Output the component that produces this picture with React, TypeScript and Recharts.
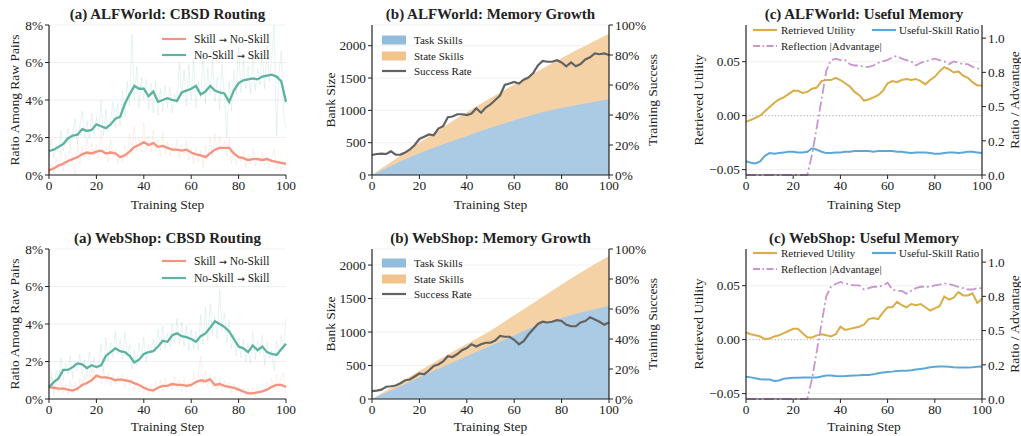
import { Area, CartesianGrid, ComposedChart, Line, LineChart, ReferenceLine, XAxis, YAxis } from 'recharts';

const SERIF = "'Liberation Serif', 'Times New Roman', serif";
const INK = '#222';
const TEAL = '#5cb3a0';
const SALMON = '#f4937f';
const TASK_FILL = '#abcae3';
const STATE_FILL = '#f5d1a6';
const TASK_PATCH = '#92bcdc';
const STATE_PATCH = '#f3c38d';
const SUCCESS = '#626262';
const GOLD = '#d9ad47';
const SKY = '#5ba8d8';
const ORCHID = '#c896cc';

// x positions
const everyStep = Array.from({ length: 101 }, (_, i) => i);
const evenSteps = everyStep.filter((s) => s % 2 === 0);
const tenSteps = [0, 10, 20, 30, 40, 50, 60, 70, 80, 90, 100];
const stepTicks = [0, 20, 40, 60, 80, 100];

// (a) CBSD routing, percent of raw pairs
const alfNoToSkill = [1.28, 1.35, 1.5, 1.65, 1.95, 2.1, 2.15, 2.45, 2.35, 2.4, 2.7, 2.6, 2.5, 2.7, 3.0, 3.1, 3.8, 4.3, 4.75, 4.6, 4.6, 4.2, 4.45, 3.9, 4.0, 4.1, 4.0, 3.95, 4.4, 4.5, 4.6, 4.75, 4.3, 4.45, 4.75, 4.5, 4.4, 4.35, 3.9, 4.5, 4.9, 5.05, 5.1, 5.15, 5.1, 5.25, 5.3, 5.35, 5.25, 5.0, 3.9];
const alfSkillToNo = [0.25, 0.35, 0.5, 0.6, 0.75, 0.85, 0.95, 1.1, 1.2, 1.15, 1.25, 1.3, 1.15, 1.2, 1.15, 0.95, 1.05, 1.25, 1.5, 1.6, 1.75, 1.6, 1.7, 1.5, 1.55, 1.45, 1.35, 1.35, 1.3, 1.35, 1.2, 1.1, 1.05, 0.95, 1.15, 1.35, 1.45, 1.45, 1.45, 1.15, 0.95, 0.9, 0.8, 0.85, 0.85, 0.8, 0.85, 0.75, 0.7, 0.65, 0.6];
const alfNoToSkillRaw = [
  1.0, 1.9, 0.9, 1.6, 1.2, 2.4, 1.3, 1.8, 2.5, 1.6, 2.2,
  3.0, 1.7, 2.6, 3.4, 2.0, 2.9, 1.9, 3.3, 2.2, 3.1,
  2.4, 4.0, 2.1, 3.5, 2.3, 2.8, 3.9, 2.5, 3.8, 2.6,
  4.5, 3.1, 5.0, 3.7, 7.5, 4.0, 5.8, 3.6, 5.2, 4.0,
  5.1, 3.5, 4.9, 3.3, 5.0, 3.2, 4.6, 3.4, 4.8, 3.6,
  4.7, 3.3, 4.3, 3.8, 6.0, 4.2, 5.6, 3.7, 5.9, 4.0,
  6.2, 3.6, 5.0, 4.1, 6.5, 3.8, 5.7, 4.3, 6.1, 3.9,
  5.2, 3.5, 5.9, 4.2, 2.0, 5.0, 3.4, 5.6, 4.3, 6.8,
  4.4, 6.1, 4.6, 5.8, 4.3, 6.4, 4.5, 5.7, 4.8, 6.6,
  4.6, 6.9, 5.0, 6.2, 8.0, 2.1, 5.4, 6.6, 3.2, 2.5,
];
const alfSkillToNoRaw = [
  0.0, 0.6, 0.1, 0.9, 0.3, 1.4, 0.2, 1.1, 0.5, 1.6, 0.7,
  0.0, 1.8, 0.6, 1.5, 0.9, 2.0, 0.8, 1.7, 1.0, 1.6,
  0.9, 2.4, 1.2, 1.5, 0.7, 1.9, 1.0, 1.4, 0.6, 1.1,
  0.7, 1.6, 0.9, 2.2, 1.1, 2.6, 1.3, 2.0, 1.2, 2.8,
  1.4, 2.1, 1.2, 2.4, 1.3, 1.9, 1.0, 2.3, 1.1, 1.8,
  1.0, 1.7, 1.2, 1.9, 0.9, 1.6, 1.1, 1.8, 0.8, 1.4,
  0.6, 1.5, 0.7, 1.3, 0.4, 1.6, 0.8, 2.0, 1.0, 2.2,
  1.2, 2.1, 1.3, 1.8, 1.0, 2.0, 0.6, 1.3, 0.5, 1.0,
  0.7, 1.3, 0.4, 1.1, 0.6, 1.4, 0.5, 1.0, 0.7, 1.2,
  0.5, 1.0, 0.4, 0.9, 1.4, 0.3, 0.8, 0.2, 0.7, 0.3,
];
const webNoToSkill = [0.62, 0.9, 1.1, 1.55, 1.55, 1.7, 1.9, 1.85, 1.65, 1.8, 1.7, 1.8, 2.3, 2.5, 2.7, 2.55, 2.5, 2.3, 1.95, 2.1, 2.4, 2.5, 2.55, 2.8, 3.1, 3.05, 3.4, 3.5, 3.35, 3.3, 3.2, 3.05, 3.35, 3.5, 3.8, 4.15, 4.0, 3.85, 3.6, 3.2, 2.8, 2.7, 2.5, 2.85, 2.6, 2.8, 2.5, 2.4, 2.35, 2.65, 2.95];
const webSkillToNo = [0.62, 0.6, 0.55, 0.55, 0.5, 0.45, 0.55, 0.75, 0.85, 1.0, 1.25, 1.15, 1.15, 1.1, 1.0, 1.05, 1.0, 0.95, 0.85, 0.75, 0.6, 0.5, 0.45, 0.6, 0.7, 0.7, 0.8, 0.75, 0.75, 0.7, 0.75, 0.9, 1.0, 0.95, 1.05, 0.75, 0.8, 0.7, 0.65, 0.6, 0.5, 0.4, 0.3, 0.3, 0.35, 0.4, 0.5, 0.65, 0.75, 0.75, 0.65];
const webNoToSkillRaw = [
  0.6, 1.2, 0.5, 1.5, 0.9, 2.2, 1.0, 1.9, 1.3, 2.3, 1.1,
  2.0, 1.5, 2.4, 1.3, 2.1, 1.2, 2.5, 1.4, 2.2, 1.6,
  1.9, 2.9, 1.5, 3.3, 2.0, 3.0, 2.2, 3.6, 2.4, 3.2,
  2.1, 3.6, 2.3, 2.9, 1.6, 2.6, 1.8, 3.0, 2.2, 3.3,
  2.0, 2.9, 2.4, 3.2, 2.5, 3.7, 2.6, 3.9, 2.7, 3.5,
  2.8, 4.0, 3.0, 4.3, 2.9, 4.1, 2.8, 3.9, 2.6, 3.7,
  2.7, 3.6, 2.6, 4.5, 2.9, 4.9, 3.1, 5.1, 3.4, 4.4,
  3.2, 5.8, 3.6, 4.6, 3.0, 4.2, 2.7, 3.5, 2.3, 3.3,
  2.2, 3.2, 2.0, 3.0, 1.9, 3.6, 2.1, 3.1, 2.4, 3.4,
  1.8, 3.0, 2.2, 2.6, 1.5, 3.1, 2.3, 3.4, 2.6, 4.3,
];
const webSkillToNoRaw = [
  0.6, 1.5, 0.2, 1.0, 0.4, 1.2, 0.3, 0.8, 0.2, 1.0, 0.3,
  0.9, 0.4, 1.1, 0.6, 1.3, 0.7, 1.5, 0.9, 1.6, 1.0,
  1.3, 0.8, 1.5, 0.9, 1.4, 0.7, 1.3, 0.8, 1.2, 0.9,
  1.3, 0.6, 1.2, 0.7, 1.1, 0.5, 0.9, 0.4, 0.8, 0.3,
  0.7, 0.2, 0.8, 0.3, 0.9, 0.5, 1.0, 0.4, 1.1, 0.6,
  0.9, 0.5, 1.2, 0.6, 1.0, 0.4, 1.1, 0.5, 0.9, 0.6,
  1.4, 0.7, 1.3, 2.3, 0.8, 1.5, 0.7, 1.3, 0.6, 1.2,
  0.5, 1.1, 0.4, 1.0, 0.5, 0.9, 0.3, 0.8, 0.4, 0.7,
  0.2, 0.6, 0.1, 0.5, 0.2, 0.6, 0.1, 0.7, 0.3, 0.6,
  0.4, 0.9, 0.5, 1.1, 0.6, 1.3, 0.7, 1.2, 1.4, 0.3,
];
const ratioTicks = [0, 2, 4, 6, 8];

// (b) memory growth: bank size every 10 steps, success rate (%) every 2 steps
const alfTaskSkills = [0, 175, 335, 475, 605, 730, 845, 950, 1035, 1105, 1170];
const alfStateSkills = [0, 75, 165, 265, 365, 460, 555, 660, 775, 895, 1020];
const alfSuccess = [13.3, 14, 14.2, 14, 15.8, 13.5, 13.6, 15, 17, 20, 24, 25.5, 27, 26.5, 31, 32.5, 38.5, 39, 40.5, 40.5, 40, 41, 44.5, 41.5, 45, 47, 50, 53, 60, 61, 62, 61, 63.5, 65, 68, 73, 76, 75.5, 75.5, 76.5, 75, 72.5, 75, 72.5, 74, 77, 78.5, 81, 80.5, 81, 80];
const webTaskSkills = [0, 160, 322, 482, 640, 795, 950, 1100, 1210, 1305, 1390];
const webStateSkills = [0, 50, 98, 143, 180, 225, 300, 380, 500, 625, 744];
const webSuccess = [5.3, 5.6, 6.2, 8.2, 8.5, 9, 10.5, 12.5, 13, 15, 17, 16.5, 19, 22, 23, 25, 28.5, 28, 30, 32.5, 34, 36.5, 35, 36.5, 37.5, 37.5, 39, 42, 41.5, 41.5, 39.5, 36.5, 38.5, 43, 46.5, 50, 51.5, 51, 51.5, 52.5, 52, 49.5, 48.5, 48.5, 51, 52, 54.5, 53, 51.5, 49.5, 51];
const bankTicks = [0, 500, 1000, 1500, 2000];
const successTicks = [0, 20, 40, 60, 80, 100];

// (c) useful memory, every 2 steps
const alfUtility = [-0.0055, -0.004, -0.002, 0.0, 0.004, 0.008, 0.012, 0.015, 0.017, 0.02, 0.023, 0.023, 0.021, 0.022, 0.025, 0.026, 0.032, 0.033, 0.033, 0.035, 0.033, 0.03, 0.027, 0.022, 0.019, 0.014, 0.015, 0.017, 0.019, 0.023, 0.03, 0.032, 0.031, 0.033, 0.034, 0.033, 0.034, 0.032, 0.029, 0.033, 0.036, 0.041, 0.045, 0.043, 0.04, 0.041, 0.037, 0.035, 0.031, 0.028, 0.028];
const alfUsefulRatio = [0.1, 0.09, 0.085, 0.1, 0.14, 0.16, 0.155, 0.16, 0.165, 0.17, 0.17, 0.165, 0.165, 0.17, 0.195, 0.185, 0.17, 0.16, 0.16, 0.165, 0.165, 0.17, 0.17, 0.175, 0.175, 0.175, 0.175, 0.17, 0.175, 0.175, 0.175, 0.175, 0.17, 0.17, 0.165, 0.16, 0.165, 0.165, 0.165, 0.16, 0.155, 0.155, 0.16, 0.165, 0.165, 0.16, 0.165, 0.17, 0.17, 0.165, 0.16];
const alfReflection = [0, 0, 0, 0, 0, 0, 0, 0, 0, 0, 0, 0, 0, 0, 0.15, 0.35, 0.55, 0.76, 0.84, 0.85, 0.84, 0.84, 0.81, 0.8, 0.8, 0.79, 0.79, 0.8, 0.82, 0.83, 0.84, 0.86, 0.87, 0.85, 0.84, 0.83, 0.8, 0.82, 0.83, 0.84, 0.85, 0.84, 0.83, 0.81, 0.83, 0.82, 0.81, 0.81, 0.79, 0.78, 0.77];
const webUtility = [0.0068, 0.005, 0.004, 0.003, 0.0005, 0.001, 0.003, 0.004, 0.006, 0.008, 0.01, 0.01, 0.006, 0.002, 0.002, 0.004, 0.005, 0.004, 0.003, 0.005, 0.012, 0.009, 0.01, 0.011, 0.012, 0.014, 0.019, 0.02, 0.019, 0.025, 0.03, 0.03, 0.035, 0.032, 0.03, 0.033, 0.032, 0.033, 0.03, 0.027, 0.029, 0.031, 0.04, 0.037, 0.039, 0.044, 0.041, 0.041, 0.043, 0.034, 0.038];
const webUsefulRatio = [0.162, 0.158, 0.152, 0.145, 0.142, 0.142, 0.132, 0.135, 0.148, 0.152, 0.155, 0.155, 0.157, 0.158, 0.157, 0.157, 0.165, 0.172, 0.172, 0.168, 0.167, 0.168, 0.17, 0.172, 0.173, 0.175, 0.176, 0.18, 0.188, 0.193, 0.197, 0.2, 0.205, 0.207, 0.207, 0.21, 0.215, 0.22, 0.225, 0.232, 0.236, 0.238, 0.238, 0.236, 0.232, 0.23, 0.23, 0.231, 0.232, 0.235, 0.237];
const webReflection = [0, 0, 0, 0, 0, 0, 0, 0, 0, 0, 0, 0, 0, 0, 0.15, 0.35, 0.55, 0.75, 0.82, 0.84, 0.855, 0.845, 0.835, 0.83, 0.83, 0.8, 0.81, 0.82, 0.82, 0.83, 0.85, 0.8, 0.79, 0.79, 0.77, 0.79, 0.81, 0.82, 0.82, 0.82, 0.83, 0.835, 0.845, 0.84, 0.83, 0.82, 0.81, 0.8, 0.8, 0.81, 0.81];
const utilityTicks = [-0.05, 0, 0.05];
const advTicks = [0, 0.25, 0.5, 0.75, 1.0];
const advTickLabels = ['0.0', '0.2', '0.5', '0.8', '1.0'];

type Series = { key: string; xs: number[]; ys: number[] };

function mergeSeries(series: Series[]) {
  const byStep = new Map<number, Record<string, number>>();
  series.forEach(({ key, xs, ys }) => {
    xs.forEach((x, i) => {
      if (ys[i] === undefined) return;
      const row = byStep.get(x) ?? { step: x };
      row[key] = ys[i];
      byStep.set(x, row);
    });
  });
  return [...byStep.values()].sort((a, b) => a.step - b.step);
}

const sumOf = (a: number[], b: number[]) => a.map((v, i) => v + b[i]);

const routingRows = [
  mergeSeries([
    { key: 'noRaw', xs: everyStep, ys: alfNoToSkillRaw },
    { key: 'skRaw', xs: everyStep, ys: alfSkillToNoRaw },
    { key: 'no', xs: evenSteps, ys: alfNoToSkill },
    { key: 'sk', xs: evenSteps, ys: alfSkillToNo },
  ]),
  mergeSeries([
    { key: 'noRaw', xs: everyStep, ys: webNoToSkillRaw },
    { key: 'skRaw', xs: everyStep, ys: webSkillToNoRaw },
    { key: 'no', xs: evenSteps, ys: webNoToSkill },
    { key: 'sk', xs: evenSteps, ys: webSkillToNo },
  ]),
];

const growthRows = [
  mergeSeries([
    { key: 'task', xs: tenSteps, ys: alfTaskSkills },
    { key: 'total', xs: tenSteps, ys: sumOf(alfTaskSkills, alfStateSkills) },
    { key: 'success', xs: evenSteps, ys: alfSuccess },
  ]),
  mergeSeries([
    { key: 'task', xs: tenSteps, ys: webTaskSkills },
    { key: 'total', xs: tenSteps, ys: sumOf(webTaskSkills, webStateSkills) },
    { key: 'success', xs: evenSteps, ys: webSuccess },
  ]),
];

const memoryRows = [
  mergeSeries([
    { key: 'utility', xs: evenSteps, ys: alfUtility },
    { key: 'ratio', xs: evenSteps, ys: alfUsefulRatio },
    { key: 'reflection', xs: evenSteps, ys: alfReflection },
  ]),
  mergeSeries([
    { key: 'utility', xs: evenSteps, ys: webUtility },
    { key: 'ratio', xs: evenSteps, ys: webUsefulRatio },
    { key: 'reflection', xs: evenSteps, ys: webReflection },
  ]),
];

const panelTitles = [
  ['(a) ALFWorld: CBSD Routing', '(b) ALFWorld: Memory Growth', '(c) ALFWorld: Useful Memory'],
  ['(a) WebShop: CBSD Routing', '(b) WebShop: Memory Growth', '(c) WebShop: Useful Memory'],
];

// layout
const ROW_TOP = [0, 218];
const PLOT_TOP = [25, 249];
const PLOT_BOTTOM = [175, 399];
const COL_X = [
  [49, 286],
  [372, 609],
  [746, 982],
];

const tickStyle = { fontSize: 13.3, fill: INK, fontFamily: SERIF };
const axisStyle = { stroke: INK, strokeWidth: 1.2 };
const tickLineStyle = { stroke: INK, strokeWidth: 1 };

function xAxis(row: number) {
  return (
    <XAxis
      dataKey="step"
      type="number"
      domain={[0, 100]}
      ticks={stepTicks}
      interval={0}
      height={ROW_TOP[row] + 218 - PLOT_BOTTOM[row]}
      tick={tickStyle}
      tickLine={tickLineStyle}
      axisLine={axisStyle}
      tickSize={4}
    />
  );
}

function RoutingChart({ row }: { row: number }) {
  return (
    <div style={{ position: 'absolute', left: 0, top: ROW_TOP[row], width: 300, height: 218 }}>
      <LineChart width={300} height={218} data={routingRows[row]} margin={{ top: PLOT_TOP[row] - ROW_TOP[row], right: 14, bottom: 0, left: 0 }}>
        <CartesianGrid vertical={false} stroke="#ececec" strokeWidth={0.8} />
        {xAxis(row)}
        <YAxis domain={[0, 8]} ticks={ratioTicks} interval={0} width={49} tick={tickStyle} tickLine={tickLineStyle} axisLine={axisStyle} tickSize={4} tickFormatter={(v) => `${v}%`} />
        <Line dataKey="noRaw" stroke={TEAL} strokeOpacity={0.18} strokeWidth={0.8} dot={false} activeDot={false} isAnimationActive={false} />
        <Line dataKey="skRaw" stroke={SALMON} strokeOpacity={0.18} strokeWidth={0.8} dot={false} activeDot={false} isAnimationActive={false} />
        <Line dataKey="sk" stroke={SALMON} strokeWidth={2.3} dot={false} activeDot={false} connectNulls isAnimationActive={false} />
        <Line dataKey="no" stroke={TEAL} strokeWidth={2.3} dot={false} activeDot={false} connectNulls isAnimationActive={false} />
      </LineChart>
    </div>
  );
}

function GrowthChart({ row }: { row: number }) {
  const top = row === 0 ? 2320 : 2240;
  return (
    <div style={{ position: 'absolute', left: 310, top: ROW_TOP[row], width: 360, height: 218 }}>
      <ComposedChart width={360} height={218} data={growthRows[row]} margin={{ top: PLOT_TOP[row] - ROW_TOP[row], right: 0, bottom: 0, left: 0 }}>
        <CartesianGrid yAxisId="l" vertical={false} stroke="#ececec" strokeWidth={0.8} />
        {xAxis(row)}
        <YAxis yAxisId="l" domain={[0, top]} ticks={bankTicks} interval={0} width={62} tick={tickStyle} tickLine={tickLineStyle} axisLine={axisStyle} tickSize={4} />
        <YAxis yAxisId="r" orientation="right" domain={[0, 100]} ticks={successTicks} interval={0} width={61} tick={tickStyle} tickLine={tickLineStyle} axisLine={axisStyle} tickSize={4} tickFormatter={(v) => `${v}%`} />
        <Area yAxisId="l" type="monotone" dataKey="total" stroke="none" fill={STATE_FILL} fillOpacity={1} connectNulls dot={false} activeDot={false} isAnimationActive={false} />
        <Area yAxisId="l" type="monotone" dataKey="task" stroke="none" fill={TASK_FILL} fillOpacity={1} connectNulls dot={false} activeDot={false} isAnimationActive={false} />
        <Line yAxisId="r" dataKey="success" stroke={SUCCESS} strokeWidth={2.2} dot={false} activeDot={false} connectNulls isAnimationActive={false} />
      </ComposedChart>
    </div>
  );
}

function MemoryChart({ row }: { row: number }) {
  return (
    <div style={{ position: 'absolute', left: 675, top: ROW_TOP[row], width: 346, height: 218 }}>
      <LineChart width={346} height={218} data={memoryRows[row]} margin={{ top: PLOT_TOP[row] - ROW_TOP[row], right: 0, bottom: 0, left: 0 }}>
        {xAxis(row)}
        <YAxis yAxisId="l" domain={[-0.055, 0.084]} ticks={utilityTicks} interval={0} width={71} tick={tickStyle} tickLine={tickLineStyle} axisLine={axisStyle} tickSize={4}
          tickFormatter={(v) => (v < 0 ? `\u2212${Math.abs(v).toFixed(2)}` : v.toFixed(2))} />
        <YAxis yAxisId="r" orientation="right" domain={[0, 1.096]} ticks={advTicks} interval={0} width={39} tick={tickStyle} tickLine={tickLineStyle} axisLine={axisStyle} tickSize={4}
          tickFormatter={(v) => advTickLabels[advTicks.indexOf(v)] ?? String(v)} />
        <ReferenceLine yAxisId="l" y={0.05} stroke="#ececec" strokeWidth={0.8} />
        <ReferenceLine yAxisId="l" y={-0.05} stroke="#ececec" strokeWidth={0.8} />
        <ReferenceLine yAxisId="l" y={0} stroke="#9a9a9a" strokeWidth={0.8} strokeDasharray="1.2 2" />
        <Line yAxisId="l" dataKey="utility" stroke={GOLD} strokeWidth={2} dot={false} activeDot={false} isAnimationActive={false} />
        <Line yAxisId="r" dataKey="ratio" stroke={SKY} strokeWidth={2} dot={false} activeDot={false} isAnimationActive={false} />
        <Line yAxisId="r" dataKey="reflection" stroke={ORCHID} strokeWidth={1.8} strokeDasharray="10 3 2 3" dot={false} activeDot={false} isAnimationActive={false} />
      </LineChart>
    </div>
  );
}

function VLabel({ x, y, text }: { x: number; y: number; text: string }) {
  return (
    <text x={x} y={y} transform={`rotate(-90 ${x} ${y})`} textAnchor="middle" dominantBaseline="central" fontSize={13.5} fill={INK}>
      {text}
    </text>
  );
}

function LineKey({ x, y, color, label, dash, gap = 31, size = 11 }: { x: number; y: number; color: string; label: React.ReactNode; dash?: string; gap?: number; size?: number }) {
  return (
    <g>
      <line x1={x} x2={x + 24} y1={y} y2={y} stroke={color} strokeWidth={2.2} strokeDasharray={dash} />
      <text x={x + gap} y={y} dominantBaseline="central" fontSize={size} fill={INK}>{label}</text>
    </g>
  );
}

function PatchKey({ x, y, color, label }: { x: number; y: number; color: string; label: string }) {
  return (
    <g>
      <rect x={x} y={y - 4.5} width={24} height={9} fill={color} />
      <text x={x + 32} y={y} dominantBaseline="central" fontSize={11} fill={INK}>{label}</text>
    </g>
  );
}

const arrow = (
  <tspan fontFamily="'DejaVu Sans', sans-serif" fontSize={9.5}> → </tspan>
);

function Overlay() {
  return (
    <svg width={1021} height={436} style={{ position: 'absolute', left: 0, top: 0, pointerEvents: 'none', fontFamily: SERIF }}>
      {[0, 1].map((row) => {
        const mid = (PLOT_TOP[row] + PLOT_BOTTOM[row]) / 2;
        const off = row === 0 ? 0 : 223;
        return (
          <g key={row}>
            {COL_X.map(([l, r], col) => (
              <g key={col}>
                <text x={(l + r) / 2} y={ROW_TOP[row] + (row === 0 ? 18.5 : 25)} textAnchor="middle" fontSize={15} fontWeight="bold" fill={INK}>
                  {panelTitles[row][col]}
                </text>
                <text x={(l + r) / 2} y={ROW_TOP[row] + (row === 0 ? 208.5 : 213)} textAnchor="middle" fontSize={13.5} fill={INK}>
                  Training Step
                </text>
              </g>
            ))}
            <VLabel x={14} y={mid} text="Ratio Among Raw Pairs" />
            <VLabel x={330} y={mid} text="Bank Size" />
            <VLabel x={652} y={mid} text="Training Success" />
            <VLabel x={698} y={mid} text="Retrieved Utility" />
            <VLabel x={1014} y={mid} text="Ratio / Advantage" />

            <LineKey x={162} y={39 + off - (row ? 1 : 0)} color={SALMON} label={<>Skill{arrow}No-Skill</>} gap={32} size={11.5} />
            <LineKey x={162} y={55 + off} color={TEAL} label={<>No-Skill{arrow}Skill</>} gap={32} size={11.5} />

            <PatchKey x={382} y={40 + off} color={TASK_PATCH} label="Task Skills" />
            <PatchKey x={382} y={56 + off} color={STATE_PATCH} label="State Skills" />
            <LineKey x={382} y={71 + off} color={SUCCESS} label="Success Rate" gap={32} />

            <LineKey x={753} y={30 + off} color={GOLD} label="Retrieved Utility" gap={28} />
            <LineKey x={872} y={30 + off} color={SKY} label="Useful-Skill Ratio" gap={27} />
            <LineKey x={753} y={46 + off} color={ORCHID} label="Reflection |Advantage|" dash="7 2.5 1.5 2.5" gap={28} />
          </g>
        );
      })}
    </svg>
  );
}

export default function App() {
  return (
    <div style={{ position: 'absolute', left: 0, top: 0, width: 1021, height: 436, background: '#fff', fontFamily: SERIF }}>
      {[0, 1].map((row) => (
        <div key={row}>
          <RoutingChart row={row} />
          <GrowthChart row={row} />
          <MemoryChart row={row} />
        </div>
      ))}
      <Overlay />
    </div>
  );
}
